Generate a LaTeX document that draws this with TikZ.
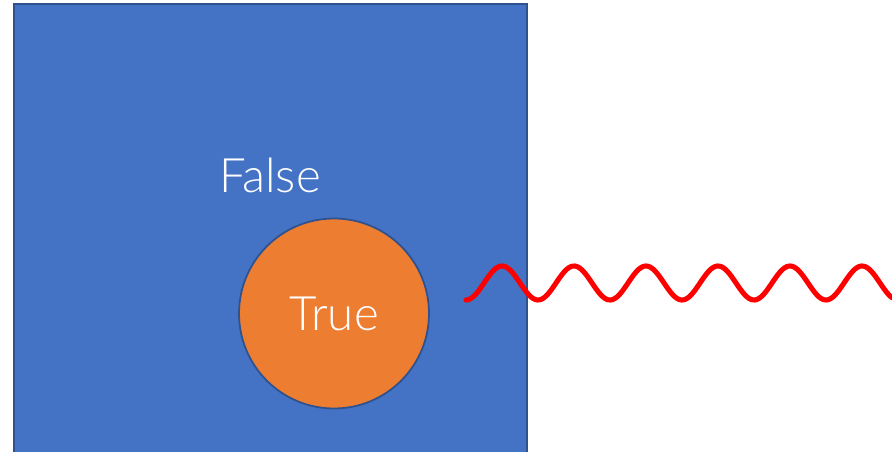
\documentclass[tikz,border=0pt]{standalone}
\usepackage{fontspec}
\setmainfont{Lato}[UprightFont=* Light]
\usetikzlibrary{positioning}

\definecolor{setblue}{HTML}{4472C4}
\definecolor{setedge}{HTML}{2F528F}
\definecolor{setorange}{HTML}{ED7D31}

\begin{document}
\begin{tikzpicture}[
  x=0.02cm, y=-0.02cm,
  falsebox/.style={draw=setedge, line width=1.2pt, fill=setblue, minimum width=10.26cm, minimum height=9.6cm, inner sep=0pt},
  truecircle/.style={circle, draw=setedge, line width=1pt, fill=setorange, minimum size=3.8cm, inner sep=0pt, text=white, font=\fontsize{27}{30}\selectfont},
  setlabel/.style={text=white, font=\fontsize{27}{30}\selectfont},
  wave/.style={red, line width=2.9pt, line cap=round}
]
\useasboundingbox (0,0) rectangle (892,452);
\clip (0,0) rectangle (892,452);

\node[falsebox] (falseset) at (270.5,244) {};
\node[setlabel] (falselabel) at (270,175) {False};
\node[truecircle] (trueset) at (334,313.5) {True};

% wave leaving the set
\draw[wave] plot[domain=466:892, samples=240] (\x, {283+17*cos(5*(\x-466))});
\end{tikzpicture}
\end{document}
